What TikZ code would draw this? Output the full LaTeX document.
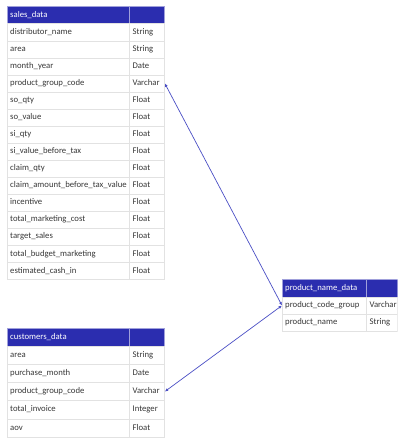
\documentclass[tikz,border=0pt]{standalone}
\usepackage{fontspec}
\setmainfont{Carlito}
\usepackage{tikz}
\usetikzlibrary{positioning, arrows.meta}
\definecolor{HeadBlue}{HTML}{2B2DAF}
\definecolor{GridGray}{HTML}{E2E2E2}
\definecolor{LinkBlue}{HTML}{4A4EC4}

\begin{document}
\begin{tikzpicture}[x=1pt, y=-1pt,
    every node/.style={font=\fontsize{8.7}{10}\selectfont, inner xsep=3pt, inner ysep=0pt,
        text height=6.3pt, text depth=2pt},
    headcell/.style={fill=HeadBlue, draw=HeadBlue!45!white, text=white},
    rowcell/.style={fill=white, draw=GridGray, text=black!78},
    namecol/.style={text width=116pt},
    typecol/.style={text width=29pt},
    link/.style={LinkBlue, line width=0.7pt,
        {Latex[length=3.5pt,width=3pt]}-{Latex[length=3.5pt,width=3pt]}}
]
    \useasboundingbox (0,0) rectangle (411,441);

    % sales_data
    \node[headcell, namecol, minimum height=17pt, anchor=north west] (sales-head) at (7,6.5) {sales\_data};
    \node[headcell, typecol, minimum height=17pt, right=0pt of sales-head] (sales-head-type) {};
    \foreach \field/\kind [count=\i] in {distributor\_name/String, area/String, month\_year/Date,
        product\_group\_code/Varchar, so\_qty/Float, so\_value/Float, si\_qty/Float,
        si\_value\_before\_tax/Float, claim\_qty/Float, claim\_amount\_before\_tax\_value/Float,
        incentive/Float, total\_marketing\_cost/Float, target\_sales/Float,
        total\_budget\_marketing/Float, estimated\_cash\_in/Float} {
        \node[rowcell, namecol, minimum height=17.05pt, anchor=north west] (sales-\i) at (7,{23.5+17.05*(\i-1)}) {\field};
        \node[rowcell, typecol, minimum height=17.05pt, right=0pt of sales-\i] (sales-\i-type) {\kind};
    }

    % customers_data
    \node[headcell, namecol, minimum height=18pt, anchor=north west] (cust-head) at (7,328) {customers\_data};
    \node[headcell, typecol, minimum height=18pt, right=0pt of cust-head] (cust-head-type) {};
    \foreach \field/\kind [count=\i] in {area/String, purchase\_month/Date, product\_group\_code/Varchar,
        total\_invoice/Integer, aov/Float} {
        \node[rowcell, namecol, minimum height=18.15pt, anchor=north west] (cust-\i) at (7,{346+18.15*(\i-1)}) {\field};
        \node[rowcell, typecol, minimum height=18.15pt, right=0pt of cust-\i] (cust-\i-type) {\kind};
    }

    % product_name_data (cut at the right)
    \begin{scope}
        \clip (281,278) rectangle (397.5,332);
        \node[headcell, text width=78pt, minimum height=17.5pt, anchor=north west] (prod-head) at (282,279.3) {product\_name\_data};
        \node[headcell, text width=25pt, minimum height=17.5pt, right=0pt of prod-head] (prod-head-type) {};
        \foreach \field/\kind [count=\i] in {product\_code\_group/Varchar, product\_name/String} {
            \node[rowcell, text width=78pt, minimum height=17pt, anchor=north west] (prod-\i) at (282,{296.8+17*(\i-1)}) {\field};
            \node[rowcell, text width=25pt, minimum height=17pt, right=0pt of prod-\i] (prod-\i-type) {\kind};
        }
    \end{scope}

    \draw[link] (sales-4-type.east) -- (prod-1.west);
    \draw[link] (cust-3-type.east) -- (prod-1.west);
\end{tikzpicture}
\end{document}
